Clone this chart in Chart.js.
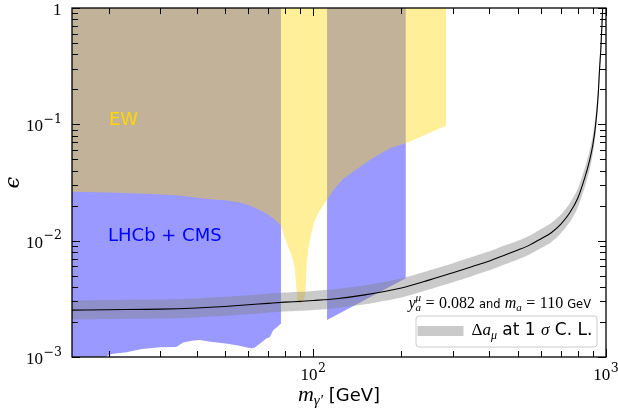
<!DOCTYPE html>
<html>
<head>
<meta charset="utf-8">
<script src="https://cdn.jsdelivr.net/npm/chart.js@4.4.0/dist/chart.umd.min.js"></script>
<style>
html,body{margin:0;padding:0;background:#fff;}
canvas{display:block;}
</style>
</head>
<body>
<canvas id="c" width="618" height="418"></canvas>
<script>
// ---------------- data ----------------
// Axis ranges
const xMin = 15, xMax = 1000, yMin = 1e-3, yMax = 1;
const regionTop = 1.05; // excluded regions extend above the frame

// Best-fit curve and 1 sigma band: m_gamma' [GeV] -> epsilon
const massX = [15, 20, 30, 40, 50, 60, 70, 80, 90, 100, 120, 150, 200, 250, 300, 350, 400, 450, 500, 550, 600, 650, 700, 750, 800, 850, 880, 900, 920, 940, 950, 960, 970, 975, 980];
const epsCentral = [2.53e-3, 2.55e-3, 2.58e-3, 2.64e-3, 2.72e-3, 2.81e-3, 2.89e-3, 2.96e-3, 3.01e-3, 3.06e-3, 3.17e-3, 3.42e-3, 3.92e-3, 4.6e-3, 5.3e-3, 6.0e-3, 6.7e-3, 7.5e-3, 8.3e-3, 9.2e-3, 1.04e-2, 1.17e-2, 1.38e-2, 1.72e-2, 2.3e-2, 3.6e-2, 4.95e-2, 6.5e-2, 9.5e-2, 0.175, 0.29, 0.44, 0.78, 1.05, 1.45];
const epsUpper = [3.06e-3, 3.09e-3, 3.12e-3, 3.19e-3, 3.29e-3, 3.40e-3, 3.50e-3, 3.58e-3, 3.64e-3, 3.70e-3, 3.84e-3, 4.14e-3, 4.74e-3, 5.57e-3, 6.41e-3, 7.26e-3, 8.11e-3, 9.08e-3, 1.00e-2, 1.11e-2, 1.26e-2, 1.42e-2, 1.67e-2, 2.08e-2, 2.78e-2, 4.36e-2, 5.99e-2, 7.87e-2, 0.115, 0.212, 0.351, 0.532, 0.944, 1.27, 1.75];
const epsLower = [2.10e-3, 2.12e-3, 2.14e-3, 2.19e-3, 2.26e-3, 2.33e-3, 2.40e-3, 2.46e-3, 2.50e-3, 2.54e-3, 2.63e-3, 2.84e-3, 3.25e-3, 3.82e-3, 4.40e-3, 4.98e-3, 5.56e-3, 6.23e-3, 6.89e-3, 7.64e-3, 8.63e-3, 9.71e-3, 1.15e-2, 1.43e-2, 1.91e-2, 2.99e-2, 4.11e-2, 5.40e-2, 7.89e-2, 0.145, 0.241, 0.365, 0.647, 0.872, 1.20];

// EW exclusion: lower boundary (excluded above)
const ewX = [14.8, 20, 27.7, 35, 44.4, 50, 56.2, 61, 65.8, 70, 73, 76.9, 77.6, 79.0, 81.2, 83.3, 85.4, 86.6, 87.3, 88.2, 89.5, 91.5, 93.7, 94.4, 94.9, 96.1, 97.4, 99.5, 101.3, 105, 111.5, 118.6, 126, 136.9, 156.1, 182.7, 207, 284];
const ewLow = [0.0263, 0.0260, 0.0252, 0.0245, 0.0227, 0.0222, 0.0213, 0.0200, 0.0183, 0.0168, 0.0156, 0.0138, 0.0135, 0.0116, 0.0095, 0.0081, 0.0068, 0.0056, 0.0043, 0.0031, 0.0029, 0.0029, 0.0033, 0.0043, 0.0060, 0.0083, 0.0101, 0.0127, 0.0150, 0.0180, 0.0225, 0.0282, 0.0335, 0.0391, 0.0493, 0.0622, 0.0687, 0.097];

// LHCb + CMS exclusion, low-mass part: lower boundary (excluded above)
const lhcbX1 = [14.8, 19.2, 20.5, 23, 26, 30, 34, 36, 38.5, 41, 44, 51, 56, 61, 63, 66, 69.3, 71, 73, 75.5, 77.6];
const lhcbLow1 = [0.00095, 0.00099, 0.00106, 0.00110, 0.00117, 0.00121, 0.00122, 0.00133, 0.00138, 0.00140, 0.00136, 0.00130, 0.00125, 0.00119, 0.00120, 0.00131, 0.00145, 0.00148, 0.00170, 0.00182, 0.00194];
// LHCb + CMS exclusion, high-mass part
const lhcbX2 = [111.5, 207];
const lhcbLow2 = [0.00208, 0.00475];

// Tick labels
const xTickValues = [100, 1000];
const xTickLabels = [['10', '2'], ['10', '3']];
const yTickValues = [1e-3, 1e-2, 1e-1, 1];
const yTickLabels = [['10', '−3'], ['10', '−2'], ['10', '−1'], ['1', '']];

// ---------------- build shapes from the arrays ----------------
const pts = (xs, ys) => xs.map((x, i) => ({x: x, y: ys[i]}));
function regionAbove(xs, lows) {
  const out = [{x: xs[0], y: regionTop}, {x: xs[xs.length - 1], y: regionTop}];
  for (let i = xs.length - 1; i >= 0; i--) out.push({x: xs[i], y: lows[i]});
  return out;
}
const bandShape = pts(massX, epsUpper).concat(pts(massX, epsLower).reverse());

const SERIF = '"Liberation Serif", "DejaVu Serif", serif';
const SERIF2 = '"DejaVu Serif", serif';
const SANS = '"DejaVu Sans", sans-serif';
const BAND = 'rgba(128,128,128,0.42)';

function runs(ctx, list, x, y, align) {
  let total = 0;
  for (const r of list) {
    ctx.font = r.font;
    r.w = ctx.measureText(r.t).width;
    if (r.sup) { ctx.font = r.supFont; r.w = Math.max(r.w, ctx.measureText(r.sup).width); }
    r.w += (r.pl || 0) + (r.pr || 0);
    total += r.w;
  }
  let cx = align === 'right' ? x - total : (align === 'center' ? x - total / 2 : x);
  for (const r of list) {
    ctx.font = r.font;
    const tx = cx + (r.pl || 0);
    ctx.fillText(r.t, tx, y + (r.dy || 0));
    if (r.sup) { ctx.font = r.supFont; ctx.fillText(r.sup, tx, y + r.supDy); }
    cx += r.w;
  }
}

function tickList(min, max) {
  const out = [];
  for (let e = Math.floor(Math.log10(min)); e <= Math.ceil(Math.log10(max)); e++) {
    for (let m = 1; m <= 9; m++) {
      const v = m * Math.pow(10, e);
      if (v >= min * 0.999 && v <= max * 1.001) out.push({v: v, major: m === 1});
    }
  }
  return out;
}

const decor = {
  id: 'decor',
  afterDatasetsDraw(chart) {
    const {ctx, chartArea: a, scales} = chart;
    const sx = scales.x, sy = scales.y;
    ctx.save();
    ctx.textAlign = 'left';
    ctx.textBaseline = 'alphabetic';

    // region labels
    ctx.fillStyle = '#ffd700';
    ctx.font = '18px ' + SANS;
    ctx.fillText('EW', 109, 125);
    ctx.fillStyle = '#0000ff';
    ctx.fillText('LHCb + CMS', 108, 241);

    // ticks (inward, all four sides)
    ctx.strokeStyle = '#000';
    ctx.lineWidth = 1;
    ctx.beginPath();
    for (const t of tickList(xMin, xMax)) {
      const px = Math.round(sx.getPixelForValue(t.v)) + 0.5;
      const len = t.major ? 8 : 6;
      ctx.moveTo(px, a.bottom); ctx.lineTo(px, a.bottom - len);
      ctx.moveTo(px, a.top); ctx.lineTo(px, a.top + len);
    }
    for (const t of tickList(yMin, yMax)) {
      const py = Math.round(sy.getPixelForValue(t.v)) + 0.5;
      const len = t.major ? 8 : 6;
      ctx.moveTo(a.left, py); ctx.lineTo(a.left + len, py);
      ctx.moveTo(a.right, py); ctx.lineTo(a.right - len, py);
    }
    ctx.stroke();

    // frame
    ctx.lineWidth = 1.3;
    ctx.strokeRect(a.left, a.top, a.right - a.left, a.bottom - a.top);

    // tick labels
    ctx.fillStyle = '#000';
    yTickValues.forEach((v, i) => {
      const py = sy.getPixelForValue(v);
      const [b, e] = yTickLabels[i];
      runs(ctx, [{t: b, font: '17px ' + SERIF}, {t: e, font: '12.5px ' + SERIF2, dy: -8.5, pl: 0.5}], 62, py + 7, 'right');
    });
    xTickValues.forEach((v, i) => {
      const px = sx.getPixelForValue(v);
      const [b, e] = xTickLabels[i];
      runs(ctx, [{t: b, font: '17px ' + SERIF}, {t: e, font: '12.5px ' + SERIF2, dy: -8, pl: 0.5}], px, 380, 'center');
    });

    // axis titles
    runs(ctx, [
      {t: 'm', font: 'italic 22px ' + SERIF},
      {t: 'γ′', font: 'italic 15px ' + SERIF, dy: 4},
      {t: ' [GeV]', font: '18px ' + SANS}
    ], (a.left + a.right) / 2, 401, 'center');
    ctx.save();
    ctx.translate(14, (a.top + a.bottom) / 2);
    ctx.rotate(-Math.PI / 2);
    ctx.textAlign = 'center';
    ctx.textBaseline = 'middle';
    ctx.font = 'italic 21px ' + SERIF2;
    ctx.fillText('ϵ', 0, 0);
    ctx.restore();

    // annotation above legend
    runs(ctx, [
      {t: 'y', font: 'italic 16px ' + SERIF},
      {t: 'a', font: 'italic 11px ' + SERIF, dy: 3, sup: 'μ', supFont: 'italic 11px ' + SERIF, supDy: -7},
      {t: '=', font: '16px ' + SERIF, pl: 4.5, pr: 4.5},
      {t: '0.082', font: '16px ' + SERIF, pr: 4},
      {t: 'and', font: '11.5px ' + SANS, pr: 4},
      {t: 'm', font: 'italic 16px ' + SERIF},
      {t: 'a', font: 'italic 11px ' + SERIF, dy: 3},
      {t: '=', font: '16px ' + SERIF, pl: 4.5, pr: 4.5},
      {t: '110', font: '16px ' + SERIF, pr: 4},
      {t: 'GeV', font: '11.5px ' + SANS}
    ], 591, 308, 'right');

    // legend box
    const bx = 416, by = 316, bw = 181, bh = 31, r = 3;
    ctx.beginPath();
    ctx.moveTo(bx + r, by);
    ctx.lineTo(bx + bw - r, by); ctx.arcTo(bx + bw, by, bx + bw, by + r, r);
    ctx.lineTo(bx + bw, by + bh - r); ctx.arcTo(bx + bw, by + bh, bx + bw - r, by + bh, r);
    ctx.lineTo(bx + r, by + bh); ctx.arcTo(bx, by + bh, bx, by + bh - r, r);
    ctx.lineTo(bx, by + r); ctx.arcTo(bx, by, bx + r, by, r);
    ctx.closePath();
    ctx.fillStyle = 'rgba(255,255,255,0.8)';
    ctx.fill();
    ctx.strokeStyle = '#cccccc';
    ctx.lineWidth = 1;
    ctx.stroke();
    ctx.fillStyle = BAND;
    ctx.fillRect(417.5, 326, 46, 10);
    ctx.fillStyle = '#000';
    runs(ctx, [
      {t: 'Δ', font: '17px ' + SERIF},
      {t: 'a', font: 'italic 17px ' + SERIF},
      {t: 'μ', font: 'italic 12px ' + SERIF, dy: 4},
      {t: ' at 1 ', font: '17px ' + SANS},
      {t: 'σ', font: 'italic 17px ' + SERIF},
      {t: ' C. L.', font: '17px ' + SANS}
    ], 471.5, 335, 'left');

    ctx.restore();
  }
};

const polyStyle = (color, tension) => ({
  backgroundColor: color, borderColor: 'transparent', borderWidth: 0,
  pointRadius: 0, fill: 'shape', tension: tension || 0
});

new Chart(document.getElementById('c'), {
  type: 'line',
  data: {
    datasets: [
      Object.assign({label: 'best fit', data: pts(massX, epsCentral)},
        {borderColor: '#000', borderWidth: 1.1, pointRadius: 0, fill: false, cubicInterpolationMode: 'monotone'}),
      Object.assign({label: 'Δaμ at 1 σ C. L.', data: bandShape}, polyStyle(BAND, 0.25)),
      Object.assign({label: 'EW', data: regionAbove(ewX, ewLow)}, polyStyle('rgba(255,215,0,0.4)')),
      Object.assign({label: 'LHCb + CMS', data: regionAbove(lhcbX1, lhcbLow1)}, polyStyle('rgba(0,0,255,0.4)')),
      Object.assign({label: 'LHCb + CMS (2)', data: regionAbove(lhcbX2, lhcbLow2)}, polyStyle('rgba(0,0,255,0.4)'))
    ]
  },
  options: {
    responsive: false,
    animation: false,
    events: [],
    layout: {padding: {top: 8, right: 12, left: 0, bottom: 0}},
    plugins: {legend: {display: false}, tooltip: {enabled: false}},
    scales: {
      x: {
        type: 'logarithmic', min: xMin, max: xMax,
        ticks: {display: false},
        grid: {display: false},
        border: {display: false},
        afterFit(s) { s.height = 61; }
      },
      y: {
        type: 'logarithmic', min: yMin, max: yMax,
        ticks: {display: false},
        grid: {display: false},
        border: {display: false},
        afterFit(s) { s.width = 72; }
      }
    }
  },
  plugins: [decor]
});
</script>
</body>
</html>
